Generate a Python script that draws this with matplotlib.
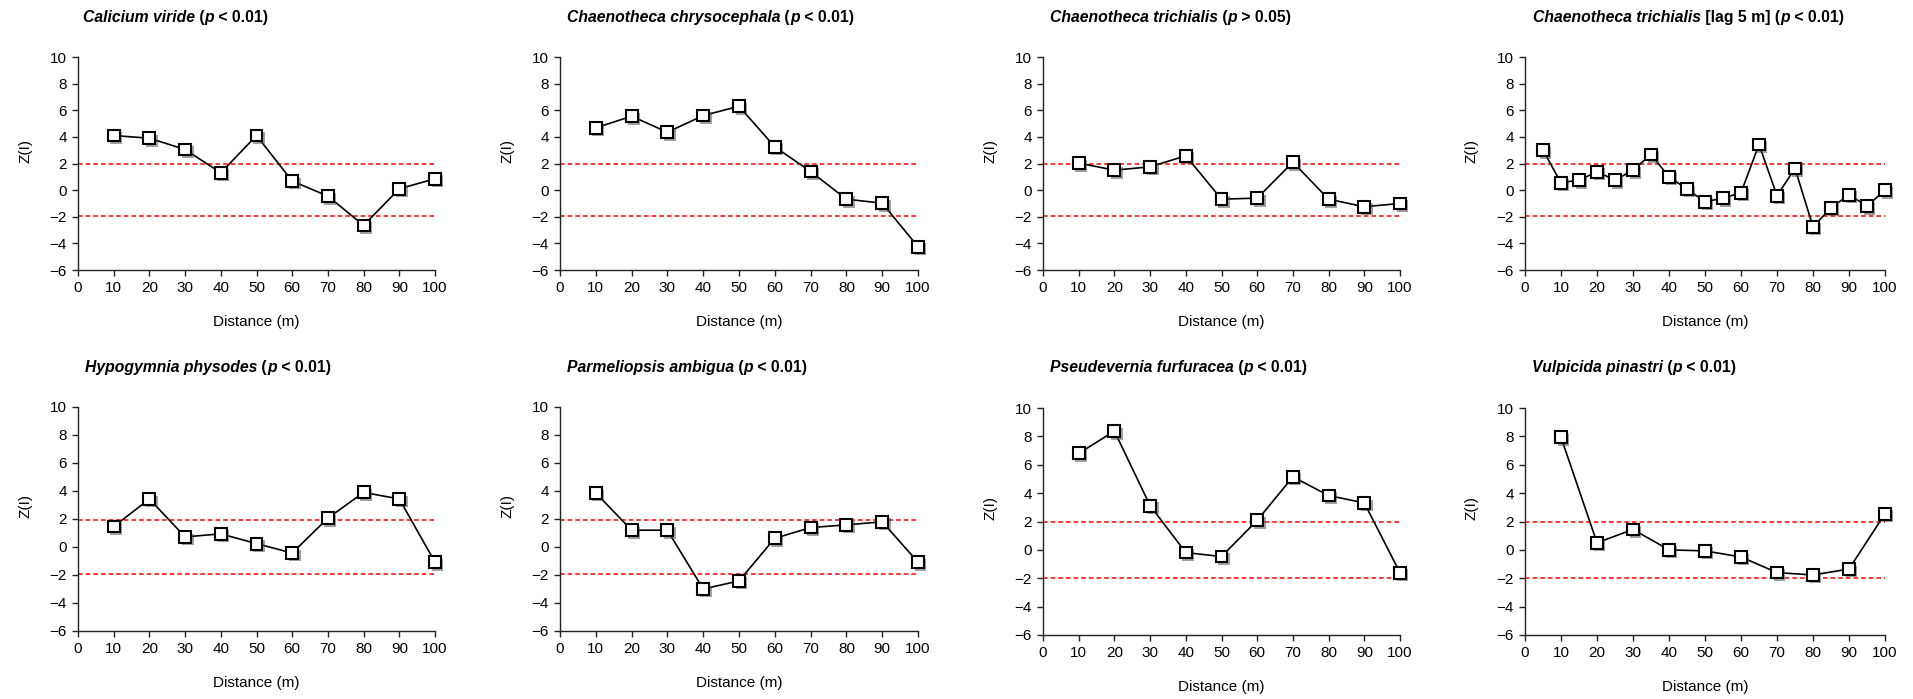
import numpy as np
import matplotlib
matplotlib.use('Agg')
import matplotlib.pyplot as plt
import matplotlib.patheffects as pe

plt.rcParams['font.family'] = ['Liberation Sans', 'DejaVu Sans']

# distance classes (m)
dist10 = [10, 20, 30, 40, 50, 60, 70, 80, 90, 100]
dist5 = [5, 10, 15, 20, 25, 30, 35, 40, 45, 50, 55, 60, 65, 70, 75, 80, 85, 90, 95, 100]

# standardized Moran's I values
calicium = [4.1, 3.9, 3.05, 1.3, 4.1, 0.68, -0.45, -2.65, 0.1, 0.85]
chrysocephala = [4.68, 5.55, 4.35, 5.6, 6.3, 3.25, 1.4, -0.68, -0.98, -4.25]
trichialis = [2.03, 1.5, 1.75, 2.58, -0.68, -0.6, 2.1, -0.68, -1.25, -1.0]
trichialis_lag5 = [3.0, 0.55, 0.75, 1.38, 0.75, 1.5, 2.68, 1.0, 0.08, -0.88,
                   -0.6, -0.2, 3.43, -0.42, 1.63, -2.75, -1.33, -0.35, -1.2, 0.0]
hypogymnia = [1.46, 3.43, 0.72, 0.94, 0.24, -0.43, 2.06, 3.9, 3.43, -1.08]
parmeliopsis = [3.86, 1.2, 1.2, -3.0, -2.42, 0.62, 1.39, 1.58, 1.8, -1.08]
pseudevernia = [6.8, 8.37, 3.12, -0.19, -0.47, 2.08, 5.15, 3.83, 3.31, -1.61]
vulpicida = [7.94, 0.5, 1.44, 0.0, -0.07, -0.5, -1.6, -1.77, -1.35, 2.55]

crit = 1.96

# title pieces: (text, italic?)
titles = [
    [("Calicium viride", True), (" (", False), ("p", True), (" < 0.01)", False)],
    [("Chaenotheca chrysocephala", True), (" (", False), ("p", True), (" < 0.01)", False)],
    [("Chaenotheca trichialis", True), (" (", False), ("p", True), (" > 0.05)", False)],
    [("Chaenotheca trichialis", True), (" [lag 5 m] (", False), ("p", True), (" < 0.01)", False)],
    [("Hypogymnia physodes", True), (" (", False), ("p", True), (" < 0.01)", False)],
    [("Parmeliopsis ambigua", True), (" (", False), ("p", True), (" < 0.01)", False)],
    [("Pseudevernia furfuracea", True), (" (", False), ("p", True), (" < 0.01)", False)],
    [("Vulpicida pinastri", True), (" (", False), ("p", True), (" < 0.01)", False)],
]

panels = [
    (dist10, calicium), (dist10, chrysocephala), (dist10, trichialis), (dist5, trichialis_lag5),
    (dist10, hypogymnia), (dist10, parmeliopsis), (dist10, pseudevernia), (dist10, vulpicida),
]

W, H = 1913, 699
# axes boxes in pixels: left, right, top, bottom
boxes = [
    (78, 435, 57, 270), (560, 918, 57, 270), (1043, 1400, 57, 270), (1525, 1885, 57, 270),
    (78, 435, 407, 631), (560, 918, 407, 631), (1043, 1400, 408, 635), (1525, 1885, 408, 635),
]
title_x = [83, 567, 1050, 1533, 85, 567, 1050, 1532]

fig = plt.figure(figsize=(W / 100, H / 100), dpi=100)
fig.patch.set_facecolor('white')

shadow = [pe.SimplePatchShadow(offset=(1.8, -1.8), shadow_rgbFace='#444444', alpha=0.5), pe.Normal()]

for i, ((x, y), (l, r, t, b)) in enumerate(zip(panels, boxes)):
    ax = fig.add_axes([l / W, 1 - b / H, (r - l) / W, (b - t) / H])
    ax.axhline(crit, color='#ff0000', linestyle=(0, (3, 2)), linewidth=1.1, zorder=1)
    ax.axhline(-crit, color='#ff0000', linestyle=(0, (3, 2)), linewidth=1.1, zorder=1)
    ax.plot(x, y, color='black', linewidth=1.2, zorder=2, clip_on=False)
    ax.plot(x, y, linestyle='none', marker='s', markersize=8.5, markerfacecolor='white',
            markeredgecolor='black', markeredgewidth=1.5, zorder=3, clip_on=False,
            path_effects=shadow)

    ax.set_xlim(0, 100)
    ax.set_ylim(-6, 10)
    ax.set_xticks(np.arange(0, 101, 10))
    ax.set_yticks(np.arange(-6, 11, 2))
    for s in ['top', 'right']:
        ax.spines[s].set_visible(False)
    for s in ['left', 'bottom']:
        ax.spines[s].set_color('#222222')
        ax.spines[s].set_linewidth(1.0)
    ax.tick_params(direction='out', length=4.5, width=1.0, color='#222222',
                   labelsize=11, labelcolor='black')
    ax.patch.set_alpha(0)

    ax.set_ylabel('Z(I)', fontsize=11)
    ax.set_xlabel('Distance (m)', fontsize=11)
    ax.yaxis.set_label_coords(-0.148, 0.56)
    ax.xaxis.set_label_coords(0.5, -52 / (b - t))
    ax.xaxis.label.set_va('center')
    ax.yaxis.label.set_va('center')

    # title built from italic / upright bold pieces, chained left to right
    base_y = 1 - (22 if i < 4 else 372) / H
    last = None
    for txt, ital in titles[i]:
        style = 'italic' if ital else 'normal'
        if last is None:
            last = fig.text(title_x[i] / W, base_y, txt, fontsize=11.3, fontweight='bold',
                            fontstyle=style, ha='left', va='baseline')
        else:
            last = ax.annotate(txt, xy=(1, 0), xycoords=last, xytext=(0, 0),
                               textcoords='offset points', fontsize=11.3, fontweight='bold',
                               fontstyle=style, ha='left', va='bottom', annotation_clip=False)

fig.savefig('out.png', dpi=100, facecolor='white')
